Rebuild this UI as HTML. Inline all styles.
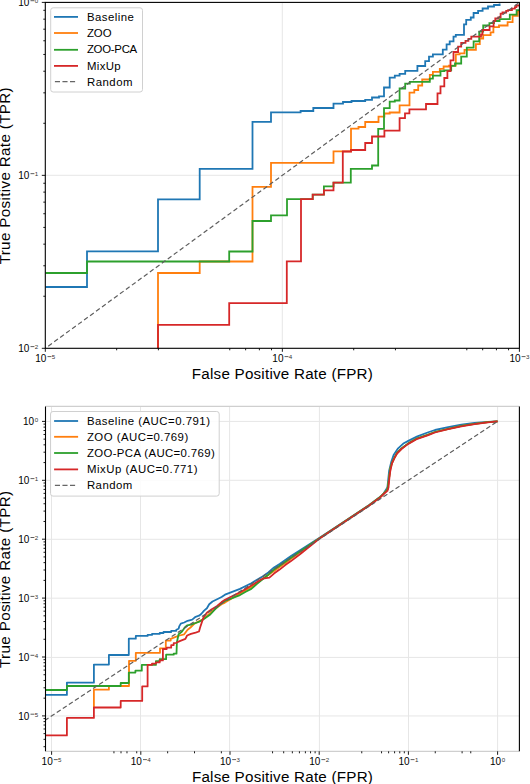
<!DOCTYPE html><html><head><meta charset="utf-8"><style>html,body{margin:0;padding:0;background:#fff;}svg{display:block}</style></head><body>
<svg width="530" height="784" viewBox="0 0 530 784" font-family='"Liberation Sans", sans-serif'>
<defs>
<clipPath id="ct"><rect x="45.3" y="2.4" width="474.09999999999997" height="345.90000000000003"/></clipPath>
<clipPath id="cb"><rect x="45.5" y="406.4" width="473.9" height="344.9"/></clipPath>
</defs>
<line x1="282.3" y1="2.4" x2="282.3" y2="348.3" stroke="#e6e6e6" stroke-width="1"/>
<line x1="45.3" y1="175.3" x2="519.4" y2="175.3" stroke="#e6e6e6" stroke-width="1"/>
<g clip-path="url(#ct)" fill="none" stroke-width="1.8" stroke-linejoin="miter" stroke-linecap="butt">
<polyline points="45.3,287.0 87.0,287.0 87.0,251.3 158.0,251.3 158.0,199.4 199.7,199.4 199.7,168.8 252.5,168.8 252.5,121.9 271.0,121.9 271.0,112.4 300.6,112.4 300.6,111.0 313.3,111.0 313.3,108.0 333.5,108.0 333.5,103.7 343.0,103.7 343.0,102.0 351.5,102.0 351.5,101.0 365.2,101.0 365.2,99.8 372.0,99.8 372.0,97.5 379.0,97.5 379.0,96.4 384.0,96.4 384.0,87.5 389.7,87.5 389.7,77.6 394.8,77.6 394.8,75.7 399.6,75.7 399.6,73.8 405.2,73.8 405.2,70.8 417.4,70.8 417.4,66.0 425.2,66.0 425.2,61.2 429.0,61.2 429.0,56.6 432.9,56.6 432.9,54.3 442.8,54.3 442.8,49.7 446.6,49.7 446.6,44.3 449.7,44.3 449.7,41.3 453.5,41.3 453.5,36.7 455.8,36.7 455.8,34.9 464.0,34.9 464.0,24.3 466.2,24.3 466.2,19.8 470.8,19.8 470.8,17.5 473.6,17.5 473.6,13.0 478.1,13.0 478.1,10.8 482.6,10.8 482.6,8.5 488.0,8.5 488.0,6.5 494.0,6.5 494.0,5.0 499.6,5.0 499.6,3.4" stroke="#1f77b4"/>
<polyline points="158.0,352.0 158.0,273.0 199.7,273.0 199.7,261.5 252.5,261.5 252.5,186.8 271.0,186.8 271.0,162.9 333.5,162.9 333.5,151.4 351.0,151.4 351.0,128.7 358.5,128.7 358.5,127.0 365.2,127.0 365.2,122.0 378.5,122.0 378.5,116.6 384.4,116.6 384.4,113.5 389.7,113.5 389.7,112.5 399.6,112.5 399.6,105.3 409.5,105.3 409.5,92.7 414.3,92.7 414.3,90.0 418.2,90.0 418.2,85.5 422.2,85.5 422.2,79.5 429.8,79.5 429.8,74.9 432.9,74.9 432.9,71.9 439.8,71.9 439.8,68.8 443.6,68.8 443.6,66.5 449.0,66.5 449.0,65.7 455.8,65.7 455.8,54.3 459.6,54.3 459.6,53.3 464.5,53.3 464.5,49.8 475.9,49.8 475.9,44.2 479.8,44.2 479.8,38.5 483.2,38.5 483.2,35.1 490.6,35.1 490.6,32.3 493.4,32.3 493.4,27.2 499.0,27.2 499.0,25.5 507.6,25.5 507.6,22.1 512.6,22.1 512.6,15.9 517.8,15.9 517.8,11.3 522.0,11.3" stroke="#ff7f0e"/>
<polyline points="45.3,273.0 87.0,273.0 87.0,261.5 229.2,261.5 229.2,251.5 252.5,251.5 252.5,221.0 271.0,221.0 271.0,215.3 287.0,215.3 287.0,199.2 312.7,199.2 312.7,194.6 323.9,194.6 323.9,186.4 333.5,186.4 333.5,182.7 350.8,182.7 350.8,168.8 372.0,168.8 372.0,165.5 378.2,165.5 378.2,128.8 384.0,128.8 384.0,108.2 389.7,108.2 389.7,101.6 394.8,101.6 394.8,100.5 399.6,100.5 399.6,88.5 405.2,88.5 405.2,83.7 409.8,83.7 409.8,81.8 429.8,81.8 429.8,78.7 432.9,78.7 432.9,75.7 440.5,75.7 440.5,71.1 444.3,71.1 444.3,70.3 451.2,70.3 451.2,65.8 455.0,65.8 455.0,63.5 461.2,63.5 461.2,56.6 466.8,56.6 466.8,47.6 473.6,47.6 473.6,41.3 479.2,41.3 479.2,31.7 483.2,31.7 483.2,25.5 489.4,25.5 489.4,23.2 494.0,23.2 494.0,21.0 499.6,21.0 499.6,19.2 509.8,19.2 509.8,14.7 516.6,14.7 516.6,10.2 522.0,10.2" stroke="#2ca02c"/>
<polyline points="158.0,352.0 158.0,324.8 229.2,324.8 229.2,303.2 286.8,303.2 286.8,261.4 301.0,261.4 301.0,199.2 312.7,199.2 312.7,194.6 323.9,194.6 323.9,190.3 333.5,190.3 333.5,182.7 342.8,182.7 342.8,151.5 351.0,151.5 351.0,150.0 365.2,150.0 365.2,143.0 372.0,143.0 372.0,136.5 384.4,136.5 384.4,130.6 399.6,130.6 399.6,118.1 405.0,118.1 405.0,113.4 409.4,113.4 409.4,109.3 426.0,109.3 426.0,104.0 437.5,104.0 437.5,93.3 440.5,93.3 440.5,86.4 444.3,86.4 444.3,78.0 447.4,78.0 447.4,71.1 450.5,71.1 450.5,60.4 453.5,60.4 453.5,52.0 458.1,52.0 458.1,46.6 461.2,46.6 461.2,42.8 465.5,42.8 465.5,40.8 468.4,40.8 468.4,38.9 471.3,38.9 471.3,36.6 481.0,36.6 481.0,34.5 482.5,34.5 482.5,30.0 489.6,30.0 489.6,26.4 493.6,26.4 493.6,21.0 495.3,21.0 495.3,18.5 498.3,18.5 498.3,17.4 500.6,17.4 500.6,13.6 502.5,13.6 502.5,12.5 506.2,12.5 506.2,10.9 508.1,10.9 508.1,10.2 511.9,10.2 511.9,8.7 514.9,8.7 514.9,7.2 516.4,7.2 516.4,5.5 522.0,5.5" stroke="#d62728"/>
<line x1="45.3" y1="348.3" x2="519.4" y2="2.4" stroke="#5e5e5e" stroke-width="1.2" stroke-dasharray="4.6 2.8" stroke-dashoffset="-3.6"/>
</g>
<rect x="45.3" y="2.4" width="474.09999999999997" height="345.90000000000003" fill="none" stroke="#000" stroke-width="1.1"/>
<path d="M45.30,348.3 v3.5 M45.3,348.30 h-3.5 M116.66,348.3 v2.0 M45.3,296.24 h-2.0 M158.40,348.3 v2.0 M45.3,265.78 h-2.0 M45.3,244.17 h-2.0 M45.3,227.41 h-2.0 M229.76,348.3 v2.0 M45.3,213.72 h-2.0 M245.63,348.3 v2.0 M45.3,202.14 h-2.0 M259.38,348.3 v2.0 M45.3,192.11 h-2.0 M271.50,348.3 v2.0 M45.3,183.26 h-2.0 M282.35,348.3 v3.5 M45.3,175.35 h-3.5 M353.71,348.3 v2.0 M45.3,123.29 h-2.0 M395.45,348.3 v2.0 M45.3,92.83 h-2.0 M45.3,71.22 h-2.0 M45.3,54.46 h-2.0 M466.81,348.3 v2.0 M45.3,40.77 h-2.0 M482.68,348.3 v2.0 M45.3,29.19 h-2.0 M496.43,348.3 v2.0 M45.3,19.16 h-2.0 M508.55,348.3 v2.0 M45.3,10.31 h-2.0 M519.4,348.3 v3.5 M45.3,2.4 h-3.5" stroke="#000" stroke-width="0.9" fill="none"/>
<text x="35.30" y="362.00" font-size="10">10</text><line x1="47.50" y1="356.60" x2="51.40" y2="356.60" stroke="#333" stroke-width="0.8"/><text x="51.80" y="359.30" font-size="6.2" fill="#333">5</text>
<text x="272.35" y="362.00" font-size="10">10</text><line x1="284.55" y1="356.60" x2="288.45" y2="356.60" stroke="#333" stroke-width="0.8"/><text x="288.85" y="359.30" font-size="6.2" fill="#333">4</text>
<text x="509.40" y="362.00" font-size="10">10</text><line x1="521.60" y1="356.60" x2="525.50" y2="356.60" stroke="#333" stroke-width="0.8"/><text x="525.90" y="359.30" font-size="6.2" fill="#333">3</text>
<text x="18.30" y="352.00" font-size="10">10</text><line x1="30.50" y1="346.60" x2="34.40" y2="346.60" stroke="#333" stroke-width="0.8"/><text x="34.80" y="349.30" font-size="6.2" fill="#333">2</text>
<text x="18.30" y="179.05" font-size="10">10</text><line x1="30.50" y1="173.65" x2="34.40" y2="173.65" stroke="#333" stroke-width="0.8"/><text x="34.80" y="176.35" font-size="6.2" fill="#333">1</text>
<text x="18.30" y="6.10" font-size="10">10</text><line x1="30.50" y1="0.70" x2="34.40" y2="0.70" stroke="#333" stroke-width="0.8"/><text x="34.80" y="3.40" font-size="6.2" fill="#333">0</text>
<text x="282.3" y="378.8" text-anchor="middle" font-size="15.2" textLength="181" lengthAdjust="spacing">False Positive Rate (FPR)</text>
<text transform="translate(10.1,175.85) rotate(-90)" text-anchor="middle" font-size="15.2" textLength="177" lengthAdjust="spacing">True Positive Rate (TPR)</text>
<rect x="50.7" y="7.8" width="91.8" height="84.2" rx="2.5" fill="#fff" fill-opacity="0.85" stroke="#d0d0d0" stroke-width="1"/>
<line x1="54" y1="16.9" x2="78" y2="16.9" stroke="#1f77b4" stroke-width="1.8"/>
<text x="86.9" y="20.6" font-size="11.4" textLength="46.9" lengthAdjust="spacing">Baseline</text>
<line x1="54" y1="33.0" x2="78" y2="33.0" stroke="#ff7f0e" stroke-width="1.8"/>
<text x="86.9" y="36.6" font-size="11.4" textLength="24.7" lengthAdjust="spacing">ZOO</text>
<line x1="54" y1="49.8" x2="78" y2="49.8" stroke="#2ca02c" stroke-width="1.8"/>
<text x="86.9" y="52.8" font-size="11.4" textLength="50.3" lengthAdjust="spacing">ZOO-PCA</text>
<line x1="54" y1="65.9" x2="78" y2="65.9" stroke="#d62728" stroke-width="1.8"/>
<text x="86.9" y="69.6" font-size="11.4" textLength="33.7" lengthAdjust="spacing">MixUp</text>
<line x1="54.9" y1="81.7" x2="75.1" y2="81.7" stroke="#666" stroke-width="1.3" stroke-dasharray="5.1 2.45"/>
<text x="86.9" y="85.7" font-size="11.4" textLength="45.6" lengthAdjust="spacing">Random</text>
<path d="M51.5,406.4 V751.3 M140.5,406.4 V751.3 M229.6,406.4 V751.3 M319.4,406.4 V751.3 M408.5,406.4 V751.3 M497.6,406.4 V751.3 M45.5,421.4 H519.4 M45.5,480.3 H519.4 M45.5,539.3 H519.4 M45.5,598.2 H519.4 M45.5,657.4 H519.4 M45.5,715.95 H519.4" stroke="#e6e6e6" stroke-width="1" fill="none"/>
<g clip-path="url(#cb)" fill="none" stroke-width="1.8" stroke-linejoin="round">
<polyline points="45.5,694.9 66.9,694.9 66.9,682.7 93.9,682.7 93.9,664.6 108.9,664.6 108.9,655.0 128.8,655.0 128.8,638.7 135.8,638.7 135.8,635.9 147.6,635.9 147.6,634.9 152.0,634.9 152.0,633.9 159.7,633.9 159.7,633.0 163.5,633.0 163.5,632.0 171.2,632.0 171.2,630.8 176.3,630.8 176.3,629.8 178.6,628.7 179.2,626.4 180.8,623.6 184.2,622.5 187.6,620.8 192.2,619.6 195.6,616.8 199.0,615.7 201.2,614.0 204.1,610.6 206.9,608.3 209.2,604.3 212.5,601.5 217.1,599.2 221.6,597.0 225.0,594.7 240.0,588.9 245.7,586.0 251.3,583.2 257.0,579.8 262.6,576.4 268.3,572.5 274.0,567.4 279.6,564.0 285.3,560.0 291.0,556.0 298.9,550.9 319.2,538.0 346.6,520.0 369.2,505.0 379.9,497.0 383.4,493.8 387.4,487.5 389.1,471.0 391.3,461.8 393.6,455.0 398.1,448.3 403.8,443.2 408.3,440.9 417.4,436.4 427.6,432.5 435.0,430.0 448.2,427.2 461.4,424.6 474.6,423.0 487.8,421.9 497.6,421.4" stroke="#1f77b4"/>
<polyline points="93.9,707.2 93.9,689.7 108.9,689.7 108.9,686.0 129.0,686.0 129.0,660.8 135.8,660.8 135.8,652.8 160.0,652.8 160.0,648.3 165.8,648.3 165.8,640.6 170.7,640.6 170.7,638.9 176.3,636.6 179.7,635.5 184.2,634.3 187.6,629.8 190.5,627.5 194.4,623.6 199.0,621.3 203.5,619.1 210.3,612.8 215.9,608.3 221.6,604.3 225.0,602.6 240.0,593.5 251.3,587.0 262.6,579.0 274.0,571.0 285.3,563.0 300.0,552.3 319.2,538.5 346.6,520.3 369.2,505.2 379.9,497.3 383.4,494.0 387.4,489.5 388.6,482.0 389.3,476.0 390.4,468.0 391.9,463.2 394.2,458.1 397.0,453.0 401.5,448.5 408.3,443.4 417.4,438.3 427.6,434.9 435.0,432.0 448.2,428.8 461.4,425.9 474.6,423.9 487.8,422.1 497.6,421.4" stroke="#ff7f0e"/>
<polyline points="45.5,690.0 66.9,690.0 66.9,686.0 120.7,686.0 120.7,683.0 128.8,683.0 128.8,672.6 135.4,672.6 135.4,670.7 141.8,670.7 141.8,664.9 155.9,664.9 155.9,661.1 159.7,661.1 159.7,659.2 166.1,659.2 166.1,654.7 173.7,654.7 173.7,653.6 176.5,653.6 176.9,642.3 178.6,634.3 182.0,631.5 184.8,627.5 187.1,625.3 191.0,624.7 195.6,623.0 200.1,621.3 204.6,618.5 210.3,614.5 215.9,608.3 221.6,603.2 225.0,600.9 240.0,595.1 245.7,591.7 251.3,588.9 257.0,583.8 262.6,579.3 268.3,574.7 274.0,569.6 279.6,565.7 285.3,561.7 291.0,557.7 300.0,551.5 319.2,538.5 346.6,520.3 369.2,505.2 379.9,497.3 383.4,494.0 387.4,489.5 388.6,482.0 389.3,476.0 390.4,468.0 391.9,463.2 394.2,458.1 397.0,453.0 401.5,448.5 408.3,443.4 417.4,438.3 427.6,434.9 435.0,432.0 448.2,428.8 461.4,425.9 474.6,423.9 487.8,422.1 497.6,421.4" stroke="#2ca02c"/>
<polyline points="45.5,735.4 66.9,735.4 66.9,717.9 93.9,717.9 93.9,707.5 120.7,707.5 120.7,700.9 142.2,700.9 142.2,686.4 147.6,686.4 147.6,664.9 152.0,664.9 152.0,663.6 155.9,663.6 155.9,662.4 159.7,662.4 159.7,660.4 162.9,660.4 162.9,649.0 166.7,649.0 166.7,647.7 171.2,647.7 171.2,645.1 173.7,645.1 173.7,643.2 176.3,642.8 179.7,641.1 185.4,638.9 187.1,635.5 191.0,633.8 195.6,632.6 199.0,631.5 200.1,627.5 203.5,617.4 206.9,612.8 211.4,609.4 217.1,606.0 221.6,602.1 225.0,599.8 240.0,592.3 245.7,588.9 251.3,585.5 257.0,582.1 262.6,578.7 269.4,577.6 274.0,573.6 279.6,569.6 285.3,565.1 291.0,561.1 300.0,554.3 319.2,538.8 346.6,520.6 369.2,505.5 379.9,497.6 383.4,494.3 387.4,490.9 388.5,487.5 389.1,480.7 390.2,471.6 391.9,463.7 394.2,458.6 397.0,453.5 401.5,449.0 408.3,443.9 417.4,438.8 427.6,435.4 435.0,432.5 448.2,429.2 461.4,426.3 474.6,424.2 487.8,422.3 497.6,421.4" stroke="#d62728"/>
<line x1="45.5" y1="719.9" x2="497.6" y2="421.4" stroke="#5e5e5e" stroke-width="1.2" stroke-dasharray="4.65 2.6" stroke-dashoffset="1.0"/>
</g>
<line x1="45.5" y1="406.4" x2="519.4" y2="406.4" stroke="#cfcfcf" stroke-width="1.2"/>
<line x1="45.5" y1="751.3" x2="519.4" y2="751.3" stroke="#cfcfcf" stroke-width="1.2"/>
<line x1="45.5" y1="406.4" x2="45.5" y2="751.3" stroke="#000" stroke-width="1.1"/>
<line x1="519.4" y1="406.4" x2="519.4" y2="751.3" stroke="#000" stroke-width="1.1"/>
<path d="M45.5,746.70 h-2.0 M45.5,739.34 h-2.0 M45.5,733.63 h-2.0 M45.5,728.97 h-2.0 M45.5,725.02 h-2.0 M45.5,721.61 h-2.0 M45.5,718.60 h-2.0 M51.60,751.3 v3.5 M45.5,715.90 h-3.5 M45.5,698.17 h-2.0 M45.5,687.80 h-2.0 M45.5,680.44 h-2.0 M113.95,751.3 v2.0 M45.5,674.73 h-2.0 M121.01,751.3 v2.0 M45.5,670.07 h-2.0 M126.98,751.3 v2.0 M45.5,666.12 h-2.0 M45.5,662.71 h-2.0 M136.72,751.3 v2.0 M45.5,659.70 h-2.0 M140.80,751.3 v3.5 M45.5,657.00 h-3.5 M167.65,751.3 v2.0 M45.5,639.27 h-2.0 M45.5,628.90 h-2.0 M194.50,751.3 v2.0 M45.5,621.54 h-2.0 M45.5,615.83 h-2.0 M45.5,611.17 h-2.0 M45.5,607.22 h-2.0 M221.36,751.3 v2.0 M45.5,603.81 h-2.0 M45.5,600.80 h-2.0 M230.00,751.3 v3.5 M45.5,598.10 h-3.5 M45.5,580.37 h-2.0 M272.56,751.3 v2.0 M45.5,570.00 h-2.0 M283.70,751.3 v2.0 M45.5,562.64 h-2.0 M292.35,751.3 v2.0 M45.5,556.93 h-2.0 M299.41,751.3 v2.0 M45.5,552.27 h-2.0 M305.38,751.3 v2.0 M45.5,548.32 h-2.0 M310.56,751.3 v2.0 M45.5,544.91 h-2.0 M315.12,751.3 v2.0 M45.5,541.90 h-2.0 M319.20,751.3 v3.5 M45.5,539.20 h-3.5 M45.5,521.47 h-2.0 M361.76,751.3 v2.0 M45.5,511.10 h-2.0 M45.5,503.74 h-2.0 M381.55,751.3 v2.0 M45.5,498.03 h-2.0 M388.61,751.3 v2.0 M45.5,493.37 h-2.0 M394.58,751.3 v2.0 M45.5,489.42 h-2.0 M399.76,751.3 v2.0 M45.5,486.01 h-2.0 M404.32,751.3 v2.0 M45.5,483.00 h-2.0 M408.40,751.3 v3.5 M45.5,480.30 h-3.5 M435.25,751.3 v2.0 M45.5,462.57 h-2.0 M45.5,452.20 h-2.0 M462.10,751.3 v2.0 M45.5,444.84 h-2.0 M470.75,751.3 v2.0 M45.5,439.13 h-2.0 M45.5,434.47 h-2.0 M45.5,430.52 h-2.0 M45.5,427.11 h-2.0 M45.5,424.10 h-2.0 M497.60,751.3 v3.5 M45.5,421.40 h-3.5" stroke="#000" stroke-width="0.9" fill="none"/>
<text x="41.60" y="765.00" font-size="10">10</text><line x1="53.80" y1="759.60" x2="57.70" y2="759.60" stroke="#333" stroke-width="0.8"/><text x="58.10" y="762.30" font-size="6.2" fill="#333">5</text>
<text x="130.80" y="765.00" font-size="10">10</text><line x1="143.00" y1="759.60" x2="146.90" y2="759.60" stroke="#333" stroke-width="0.8"/><text x="147.30" y="762.30" font-size="6.2" fill="#333">4</text>
<text x="220.00" y="765.00" font-size="10">10</text><line x1="232.20" y1="759.60" x2="236.10" y2="759.60" stroke="#333" stroke-width="0.8"/><text x="236.50" y="762.30" font-size="6.2" fill="#333">3</text>
<text x="309.20" y="765.00" font-size="10">10</text><line x1="321.40" y1="759.60" x2="325.30" y2="759.60" stroke="#333" stroke-width="0.8"/><text x="325.70" y="762.30" font-size="6.2" fill="#333">2</text>
<text x="398.40" y="765.00" font-size="10">10</text><line x1="410.60" y1="759.60" x2="414.50" y2="759.60" stroke="#333" stroke-width="0.8"/><text x="414.90" y="762.30" font-size="6.2" fill="#333">1</text>
<text x="489.90" y="765.00" font-size="10">10</text><text x="501.80" y="762.30" font-size="6.2" fill="#333">0</text>
<text x="18.30" y="719.60" font-size="10">10</text><line x1="30.50" y1="714.20" x2="34.40" y2="714.20" stroke="#333" stroke-width="0.8"/><text x="34.80" y="716.90" font-size="6.2" fill="#333">5</text>
<text x="18.30" y="660.70" font-size="10">10</text><line x1="30.50" y1="655.30" x2="34.40" y2="655.30" stroke="#333" stroke-width="0.8"/><text x="34.80" y="658.00" font-size="6.2" fill="#333">4</text>
<text x="18.30" y="601.80" font-size="10">10</text><line x1="30.50" y1="596.40" x2="34.40" y2="596.40" stroke="#333" stroke-width="0.8"/><text x="34.80" y="599.10" font-size="6.2" fill="#333">3</text>
<text x="18.30" y="542.90" font-size="10">10</text><line x1="30.50" y1="537.50" x2="34.40" y2="537.50" stroke="#333" stroke-width="0.8"/><text x="34.80" y="540.20" font-size="6.2" fill="#333">2</text>
<text x="18.30" y="484.00" font-size="10">10</text><line x1="30.50" y1="478.60" x2="34.40" y2="478.60" stroke="#333" stroke-width="0.8"/><text x="34.80" y="481.30" font-size="6.2" fill="#333">1</text>
<text x="22.90" y="425.10" font-size="10">10</text><text x="34.80" y="422.40" font-size="6.2" fill="#333">0</text>
<text x="282.4" y="781.7" text-anchor="middle" font-size="15.2" textLength="181" lengthAdjust="spacing">False Positive Rate (FPR)</text>
<text transform="translate(10.1,579.45) rotate(-90)" text-anchor="middle" font-size="15.2" textLength="177" lengthAdjust="spacing">True Positive Rate (TPR)</text>
<rect x="50.5" y="411.5" width="168.7" height="84.6" rx="2.5" fill="#fff" fill-opacity="0.85" stroke="#d0d0d0" stroke-width="1"/>
<line x1="54.1" y1="421.0" x2="78.1" y2="421.0" stroke="#1f77b4" stroke-width="1.8"/>
<text x="86.9" y="424.9" font-size="11.4" textLength="123.1" lengthAdjust="spacing">Baseline (AUC=0.791)</text>
<line x1="54.1" y1="436.8" x2="78.1" y2="436.8" stroke="#ff7f0e" stroke-width="1.8"/>
<text x="86.9" y="440.9" font-size="11.4" textLength="101.3" lengthAdjust="spacing">ZOO (AUC=0.769)</text>
<line x1="54.1" y1="453.0" x2="78.1" y2="453.0" stroke="#2ca02c" stroke-width="1.8"/>
<text x="86.9" y="457.0" font-size="11.4" textLength="127.8" lengthAdjust="spacing">ZOO-PCA (AUC=0.769)</text>
<line x1="54.1" y1="469.4" x2="78.1" y2="469.4" stroke="#d62728" stroke-width="1.8"/>
<text x="86.9" y="473.0" font-size="11.4" textLength="110.6" lengthAdjust="spacing">MixUp (AUC=0.771)</text>
<line x1="54.9" y1="485.3" x2="75.1" y2="485.3" stroke="#666" stroke-width="1.3" stroke-dasharray="5.1 2.45"/>
<text x="86.9" y="489.0" font-size="11.4" textLength="45.4" lengthAdjust="spacing">Random</text>
</svg></body></html>
